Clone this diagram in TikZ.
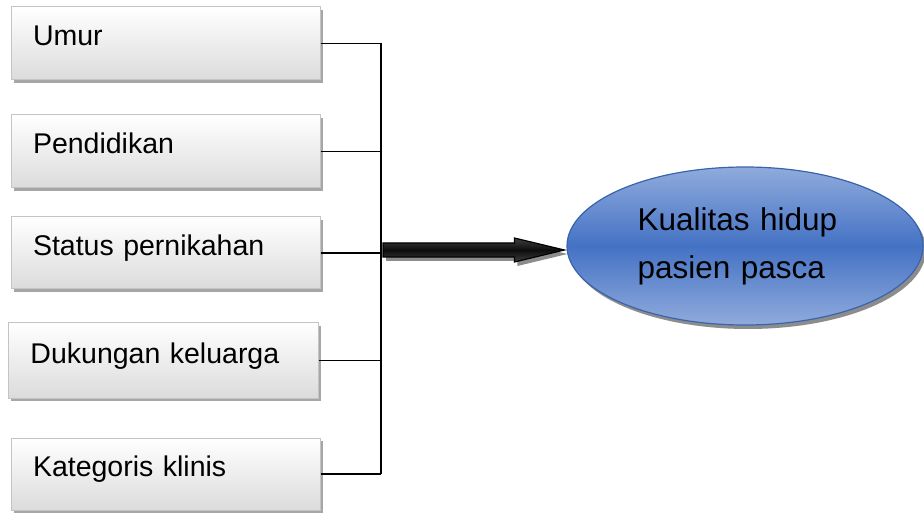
\documentclass[tikz,border=0pt]{standalone}
\usepackage{fontspec}
\setmainfont{Liberation Sans}
\usetikzlibrary{shapes.geometric,shadows,calc}
\definecolor{boxline}{HTML}{C4C4C4}
\definecolor{boxshade}{HTML}{A6A6A6}
\definecolor{goalblue}{HTML}{4472C4}
\definecolor{goallight}{HTML}{90ABDC}
\definecolor{goalline}{HTML}{3A63AE}
\begin{document}
\begin{tikzpicture}[x=1pt, y=1pt,
  factor/.style={rectangle, draw=boxline, line width=1pt, top color=white, bottom color=black!14,
    drop shadow={shadow xshift=3pt, shadow yshift=-3pt, fill=boxshade, opacity=1},
    minimum width=309pt, minimum height=73pt, inner xsep=22pt, text height=17pt, text depth=12pt,
    anchor=center, align=left, text width=265pt, font=\fontsize{28.5}{34}\selectfont},
  goal/.style={ellipse, draw=goalline, line width=1.2pt, top color=goallight, bottom color=goallight,
    middle color=goalblue,
    drop shadow={shadow xshift=3pt, shadow yshift=-4pt, fill=black!45, opacity=1},
    minimum width=356pt, minimum height=158pt, inner sep=0pt, align=left, text width=215pt,
    font=\fontsize{31.5}{48}\selectfont},
  link/.style={line width=1.4pt, black},
  bigarrow/.style={draw=black, line width=1.2pt, top color=black!75, bottom color=black!75,
    middle color=black!95,
    drop shadow={shadow xshift=3pt, shadow yshift=-4pt, fill=black!45, opacity=1}}]
\useasboundingbox (0,0) rectangle (924,512);

% factors
\node[factor] (umur) at (165.5,468.5) {Umur};
\node[factor] (didik) at (165.5,360.5) {Pendidikan};
\node[factor, minimum height=72pt] (nikah) at (165.5,259) {Status pernikahan};
\node[factor, minimum width=310pt, minimum height=75pt] (dukung) at (163,151.5) {Dukungan keluarga};
\node[factor, minimum height=72pt] (klinis) at (165.5,38) {Kategoris klinis};

% outcome
\node[goal] (hidup) at (745,266) {Kualitas hidup\\pasien pasca};

% bracket
\coordinate (join) at (381,262);
\draw[link] (umur.east) -- (umur.east -| join);
\draw[link] (didik.east) -- (didik.east -| join);
\draw[link] (nikah.east) -- (nikah.east -| join);
\draw[link] (dukung.east) -- (dukung.east -| join);
\draw[link] (klinis.east) -- (klinis.east -| join);
\draw[link, line width=1.8pt] (umur.east -| join) -- (klinis.east -| join);

% arrow
\coordinate (tip) at ($(hidup.west |- join)+(-2,0)$);
\path[bigarrow] ($(join)+(2,7)$) -- ($(tip)+(-50,7)$) -- ($(tip)+(-50,12)$) -- (tip)
  -- ($(tip)+(-50,-12)$) -- ($(tip)+(-50,-7)$) -- ($(join)+(2,-7)$) -- cycle;

\end{tikzpicture}
\end{document}
